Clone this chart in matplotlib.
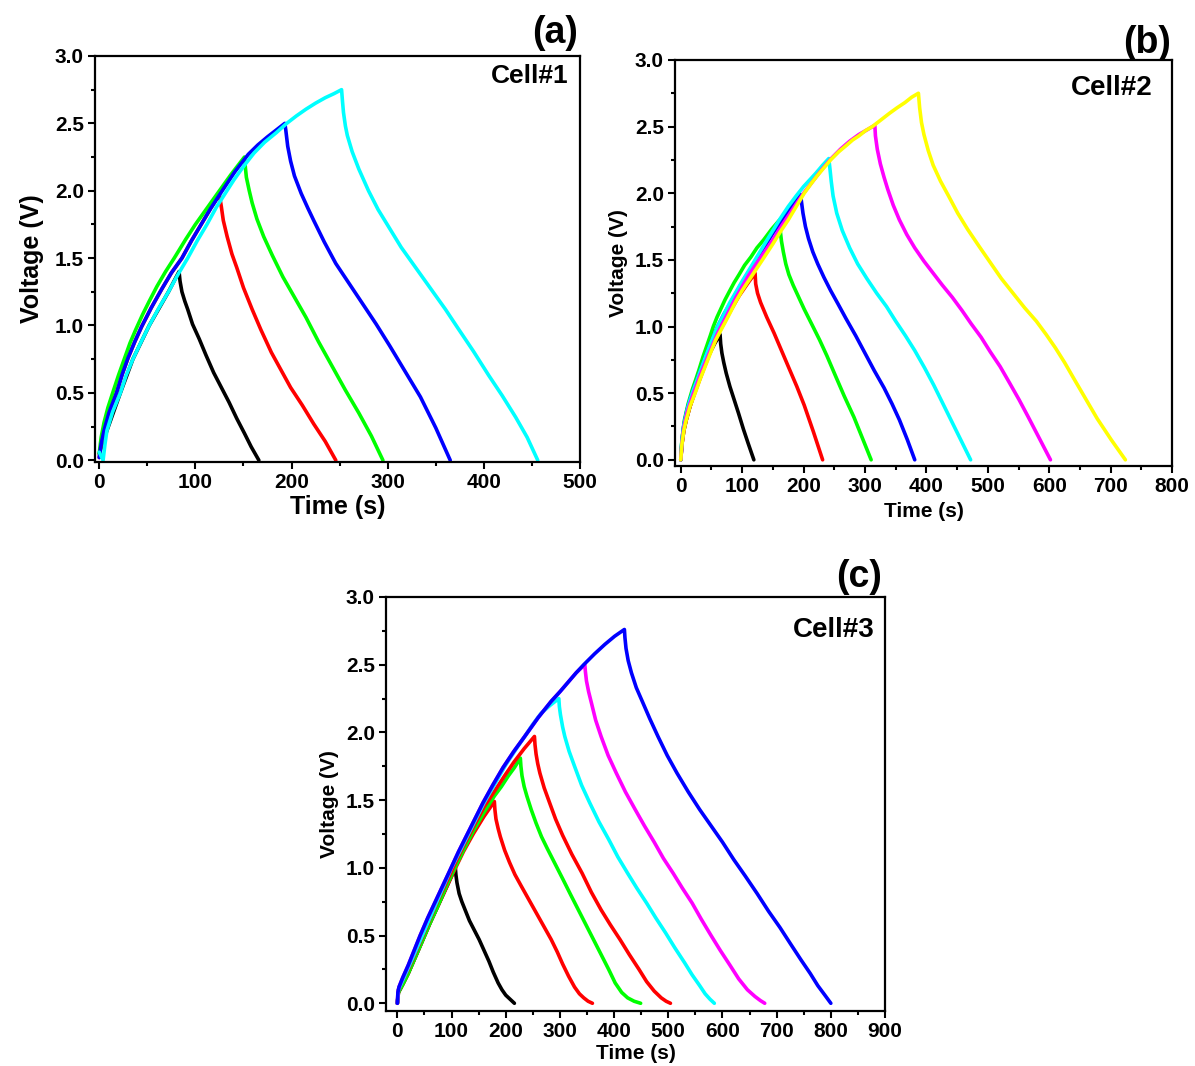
import numpy as np
import matplotlib
matplotlib.use("Agg")
import matplotlib.pyplot as plt
from matplotlib.ticker import MultipleLocator

plt.rcParams['font.family'] = ['Liberation Sans', 'DejaVu Sans']
plt.rcParams['font.weight'] = 'bold'

# =============================================================================
# Data: each curve = charge (up to the peak) then discharge
# =============================================================================
cell1_colors = ['#000000', '#FF0000', '#00FF00', '#0000FF', '#00FFFF']
cell1_time = [
    [0, 8, 22, 35, 52, 72, 83,
     84, 86, 89, 92, 97, 104, 111, 119, 127, 135, 143, 151, 158, 166],
    [0, 2, 5, 10, 18, 24, 30, 37, 44, 54, 65, 75, 86, 96, 106, 116, 125,
     127, 129, 133, 138, 143, 150, 159, 168, 179, 189, 199, 211, 223, 235, 246],
    [0, 2, 5, 9, 14, 20, 26, 32, 38, 45, 52, 60, 69, 78, 90, 100, 112, 123, 137, 151,
     152, 153, 156, 159, 164, 171, 180, 191, 203, 215, 228, 242, 256, 270, 283, 295],
    [0, 2, 5, 10, 18, 24, 30, 37, 44, 54, 65, 75, 86, 96, 106, 116, 127, 141, 155, 165, 175, 184, 193,
     194, 196, 199, 203, 210, 217, 223, 234, 246, 260, 274, 288, 302, 318, 334, 350, 365],
    [0, 2, 4, 6, 8, 14, 22, 28, 35, 43, 52, 62, 72, 82, 92, 102, 112, 122, 131, 140, 150, 161,
     172, 184, 195, 205, 215, 225, 235, 244, 252,
     253, 254, 256, 258, 263, 270, 280, 290, 302, 314, 330, 346, 360, 373, 389, 405, 419, 433, 445, 456],
]
cell1_volt = [
    [0.05, 0.22, 0.50, 0.75, 1.00, 1.25, 1.40,
     1.33, 1.25, 1.18, 1.12, 1.01, 0.90, 0.78, 0.65, 0.54, 0.43, 0.31, 0.20, 0.10, 0.0],
    [0.02, 0.12, 0.22, 0.35, 0.50, 0.64, 0.76, 0.88, 0.99, 1.13, 1.27, 1.39, 1.50, 1.63, 1.75, 1.87, 1.97,
     1.88, 1.78, 1.66, 1.53, 1.43, 1.28, 1.12, 0.97, 0.80, 0.67, 0.54, 0.41, 0.27, 0.14, 0.0],
    [0.05, 0.17, 0.28, 0.39, 0.50, 0.63, 0.75, 0.87, 0.97, 1.08, 1.18, 1.29, 1.40, 1.50, 1.64, 1.75, 1.87,
     1.98, 2.12, 2.25,
     2.17, 2.10, 2.00, 1.91, 1.79, 1.66, 1.52, 1.36, 1.21, 1.06, 0.88, 0.70, 0.52, 0.35, 0.18, 0.0],
    [0.02, 0.12, 0.22, 0.35, 0.50, 0.64, 0.76, 0.88, 0.99, 1.13, 1.27, 1.39, 1.50, 1.63, 1.75, 1.87, 1.99,
     2.14, 2.27, 2.34, 2.40, 2.45, 2.50,
     2.45, 2.33, 2.22, 2.11, 1.98, 1.87, 1.78, 1.62, 1.46, 1.31, 1.16, 1.01, 0.85, 0.66, 0.47, 0.24, 0.0],
    [0.06, 0.03, 0.0, 0.12, 0.22, 0.36, 0.50, 0.63, 0.75, 0.87, 1.00, 1.13, 1.25, 1.38, 1.50, 1.63, 1.75,
     1.88, 1.98, 2.08, 2.18, 2.28, 2.36, 2.43, 2.50, 2.555, 2.605, 2.65, 2.69, 2.72, 2.75,
     2.66, 2.58, 2.48, 2.41, 2.29, 2.16, 2.00, 1.86, 1.72, 1.58, 1.42, 1.26, 1.12, 0.98, 0.81, 0.63, 0.48,
     0.32, 0.17, 0.0],
]

cell2_colors = ['#000000', '#FF0000', '#00FF00', '#0000FF', '#00FFFF', '#FF00FF', '#FFFF00']
cell2_time = [
    [0, 2, 5, 9, 15, 22, 30, 38, 45, 55, 64,
     65, 67, 70, 74, 80, 87, 94, 102, 110, 119],
    [0, 2, 5, 9, 15, 25, 38, 50, 65, 80, 95, 110, 121,
     122, 125, 130, 140, 152, 164, 176, 189, 201, 216, 231],
    [0, 1, 2, 4, 6, 9, 12, 19, 25, 30, 36, 42, 48, 53, 59, 65, 72, 80, 87, 95, 104, 114, 124, 135, 148, 161,
     162, 164, 167, 171, 176, 183, 192, 201, 213, 226, 238, 251, 266, 282, 296, 310],
    [0, 2, 5, 10, 15, 20, 25, 32, 40, 50, 60, 70, 80, 90, 100, 112, 125, 138, 150, 162, 175, 185, 195,
     197, 199, 203, 208, 215, 223, 233, 244, 256, 269, 285, 300, 315, 331, 344, 356, 369, 381],
    [0, 2, 5, 10, 15, 20, 25, 32, 40, 50, 60, 70, 80, 90, 100, 112, 125, 138, 150, 162, 175, 188, 200,
     210, 220, 231, 241,
     243, 245, 248, 254, 263, 275, 288, 303, 319, 335, 350, 366, 381, 397, 412, 427, 442, 457, 472],
    [0, 2, 5, 10, 15, 20, 25, 32, 40, 50, 60, 70, 80, 90, 100, 110, 120, 135, 150, 162, 175, 188, 200,
     215, 230, 245, 260, 275, 290, 305, 316,
     317, 320, 325, 331, 337, 346, 356, 368, 381, 396, 411, 426, 442, 458, 473, 489, 504, 520, 535, 551,
     566, 584, 602],
    [0, 1, 2, 5, 9, 15, 20, 25, 31, 38, 44, 50, 57, 65, 72, 80, 90, 100, 110, 120, 133, 150, 162, 175,
     188, 201, 212, 222, 233, 244, 257, 270, 280, 290, 301, 312, 326, 340, 352, 365, 376, 387,
     389, 392, 396, 403, 411, 423, 436, 451, 467, 486, 504, 522, 541, 560, 579, 595, 610, 625, 640, 659,
     678, 701, 724],
]
cell2_volt = [
    [0.0, 0.12, 0.22, 0.30, 0.40, 0.50, 0.60, 0.70, 0.78, 0.87, 0.94,
     0.87, 0.80, 0.73, 0.65, 0.55, 0.45, 0.35, 0.23, 0.12, 0.0],
    [0.0, 0.12, 0.22, 0.30, 0.40, 0.53, 0.69, 0.83, 0.98, 1.11, 1.23, 1.33, 1.40,
     1.32, 1.25, 1.18, 1.07, 0.95, 0.82, 0.69, 0.55, 0.41, 0.21, 0.0],
    [0.0, 0.10, 0.15, 0.23, 0.30, 0.36, 0.42, 0.53, 0.61, 0.68, 0.77, 0.85, 0.93, 1.00, 1.07, 1.13, 1.20,
     1.27, 1.33, 1.39, 1.46, 1.52, 1.59, 1.65, 1.73, 1.80,
     1.72, 1.64, 1.56, 1.47, 1.39, 1.31, 1.22, 1.13, 1.02, 0.90, 0.78, 0.64, 0.48, 0.32, 0.16, 0.0],
    [0.0, 0.15, 0.26, 0.37, 0.45, 0.52, 0.58, 0.67, 0.77, 0.89, 1.00, 1.09, 1.17, 1.25, 1.33, 1.42, 1.52,
     1.61, 1.70, 1.78, 1.86, 1.93, 1.99,
     1.92, 1.85, 1.75, 1.66, 1.56, 1.47, 1.37, 1.27, 1.17, 1.06, 0.93, 0.80, 0.67, 0.54, 0.42, 0.30, 0.15, 0.0],
    [0.0, 0.15, 0.26, 0.37, 0.45, 0.52, 0.58, 0.67, 0.77, 0.89, 1.00, 1.09, 1.18, 1.26, 1.34, 1.43, 1.53,
     1.63, 1.72, 1.81, 1.90, 1.98, 2.05, 2.10, 2.15, 2.21, 2.26,
     2.18, 2.09, 1.98, 1.85, 1.72, 1.59, 1.47, 1.36, 1.25, 1.15, 1.04, 0.93, 0.82, 0.69, 0.56, 0.42, 0.28,
     0.14, 0.0],
    [0.0, 0.13, 0.24, 0.35, 0.42, 0.49, 0.55, 0.64, 0.73, 0.84, 0.95, 1.04, 1.13, 1.22, 1.30, 1.38, 1.45,
     1.55, 1.65, 1.74, 1.83, 1.92, 2.00, 2.09, 2.18, 2.26, 2.33, 2.39, 2.44, 2.48, 2.51,
     2.43, 2.33, 2.22, 2.12, 2.03, 1.91, 1.80, 1.69, 1.59, 1.49, 1.40, 1.31, 1.22, 1.12, 1.02, 0.92, 0.81,
     0.70, 0.58, 0.45, 0.32, 0.16, 0.0],
    [0.0, 0.07, 0.12, 0.22, 0.30, 0.40, 0.46, 0.52, 0.60, 0.68, 0.75, 0.82, 0.90, 0.97, 1.03, 1.10, 1.19,
     1.27, 1.34, 1.41, 1.50, 1.62, 1.71, 1.80, 1.90, 2.00, 2.07, 2.13, 2.19, 2.25, 2.31, 2.36, 2.40, 2.43,
     2.47, 2.50, 2.55, 2.60, 2.64, 2.68, 2.72, 2.75,
     2.64, 2.53, 2.44, 2.32, 2.21, 2.09, 1.98, 1.85, 1.73, 1.60, 1.48, 1.36, 1.25, 1.14, 1.04, 0.94, 0.84,
     0.73, 0.61, 0.46, 0.31, 0.15, 0.0],
]

cell3_colors = ['#000000', '#FF0000', '#00FF00', '#FF0000', '#00FFFF', '#FF00FF', '#0000FF']
cell3_time = [
    [0, 2, 10, 20, 32, 45, 60, 75, 91, 107,
     108, 110, 114, 119, 126, 133, 142, 151, 160, 169, 177, 186, 193, 200, 208, 216],
    [0, 2, 10, 20, 32, 45, 60, 75, 90, 105, 122, 140, 160, 179,
     180, 182, 186, 190, 198, 207, 217, 228, 242, 256, 270, 284, 295, 305, 316, 327, 336, 344, 352, 360],
    [0, 2, 10, 20, 32, 45, 60, 75, 90, 105, 122, 140, 160, 179, 192, 205, 216, 227,
     228, 230, 234, 239, 247, 256, 266, 277, 291, 305, 320, 334, 348, 362, 376, 390, 402, 414, 425, 437, 449],
    [0, 2, 10, 20, 32, 45, 60, 75, 90, 105, 122, 140, 160, 180, 198, 215, 234, 253,
     254, 256, 259, 263, 271, 281, 292, 305, 322, 341, 358, 376, 393, 411, 428, 446, 460, 474, 487, 496, 504],
    [0, 2, 10, 20, 32, 45, 60, 75, 88, 100, 115, 130, 145, 160, 180, 200, 218, 235, 250, 265, 282, 298,
     299, 301, 305, 309, 317, 327, 340, 355, 372, 390, 407, 425, 442, 460, 477, 495, 512, 530, 544, 558,
     568, 577, 585],
    [0, 1, 3, 10, 20, 31, 42, 56, 70, 84, 98, 113, 128, 143, 158, 176, 195, 215, 235, 260, 284, 300, 315,
     330, 346,
     347, 349, 353, 358, 366, 376, 389, 404, 421, 439, 456, 474, 491, 509, 526, 544, 561, 579, 596, 614,
     630, 646, 660, 670, 678],
    [0, 1, 3, 10, 20, 31, 42, 56, 70, 84, 98, 113, 128, 143, 158, 176, 195, 215, 235, 260, 284, 300, 315,
     330, 344, 364, 383, 401, 419,
     420, 422, 426, 432, 441, 453, 466, 481, 498, 516, 537, 558, 579, 600, 621, 642, 664, 685, 706, 727,
     745, 762, 776, 789, 800],
]
cell3_volt = [
    [0.0, 0.08, 0.14, 0.22, 0.33, 0.45, 0.59, 0.72, 0.86, 1.00,
     0.95, 0.89, 0.81, 0.75, 0.68, 0.61, 0.54, 0.47, 0.39, 0.31, 0.23, 0.15, 0.10, 0.06, 0.03, 0.0],
    [0.0, 0.08, 0.14, 0.22, 0.33, 0.45, 0.59, 0.72, 0.85, 0.98, 1.12, 1.25, 1.38, 1.49,
     1.43, 1.36, 1.29, 1.23, 1.13, 1.04, 0.95, 0.87, 0.77, 0.67, 0.57, 0.47, 0.38, 0.29, 0.20, 0.12, 0.07,
     0.04, 0.015, 0.0],
    [0.0, 0.08, 0.14, 0.22, 0.33, 0.45, 0.59, 0.72, 0.86, 0.99, 1.13, 1.27, 1.41, 1.53, 1.60, 1.68, 1.74, 1.81,
     1.75, 1.68, 1.60, 1.53, 1.43, 1.33, 1.23, 1.14, 1.03, 0.92, 0.80, 0.69, 0.58, 0.47, 0.36, 0.25, 0.15,
     0.08, 0.04, 0.015, 0.0],
    [0.0, 0.10, 0.17, 0.25, 0.36, 0.48, 0.62, 0.76, 0.89, 1.02, 1.16, 1.30, 1.45, 1.57, 1.68, 1.78, 1.88, 1.97,
     1.91, 1.84, 1.77, 1.70, 1.59, 1.48, 1.36, 1.24, 1.10, 0.96, 0.82, 0.69, 0.58, 0.47, 0.36, 0.25, 0.16,
     0.09, 0.04, 0.015, 0.0],
    [0.0, 0.10, 0.17, 0.26, 0.37, 0.49, 0.63, 0.77, 0.89, 1.00, 1.12, 1.24, 1.36, 1.48, 1.62, 1.76, 1.87,
     1.97, 2.06, 2.14, 2.20, 2.25,
     2.19, 2.13, 2.04, 1.97, 1.86, 1.75, 1.61, 1.48, 1.34, 1.21, 1.08, 0.96, 0.85, 0.74, 0.63, 0.52, 0.41,
     0.30, 0.21, 0.13, 0.07, 0.03, 0.0],
    [0.0, 0.08, 0.12, 0.19, 0.28, 0.39, 0.50, 0.63, 0.75, 0.87, 0.99, 1.12, 1.24, 1.36, 1.48, 1.61, 1.74,
     1.86, 1.97, 2.11, 2.23, 2.30, 2.37, 2.44, 2.50,
     2.45, 2.38, 2.30, 2.22, 2.09, 1.97, 1.83, 1.70, 1.56, 1.43, 1.31, 1.19, 1.07, 0.96, 0.85, 0.74, 0.62,
     0.50, 0.39, 0.28, 0.18, 0.10, 0.05, 0.02, 0.0],
    [0.0, 0.08, 0.12, 0.19, 0.28, 0.39, 0.50, 0.63, 0.75, 0.87, 0.99, 1.12, 1.24, 1.36, 1.48, 1.61, 1.74,
     1.86, 1.97, 2.11, 2.23, 2.30, 2.37, 2.44, 2.50, 2.58, 2.65, 2.71, 2.76,
     2.70, 2.62, 2.53, 2.44, 2.33, 2.22, 2.10, 1.97, 1.83, 1.70, 1.56, 1.43, 1.31, 1.19, 1.06, 0.94, 0.81,
     0.68, 0.56, 0.43, 0.32, 0.22, 0.13, 0.06, 0.0],
]

# =============================================================================
# Plotting
# =============================================================================
def style_axes(ax, xmin, xmax, ymin, label_size, xlabelpad, ylabelpad):
    ax.set_xlim(xmin, xmax)
    ax.set_ylim(ymin, 3.0)
    ax.xaxis.set_major_locator(MultipleLocator(100))
    ax.xaxis.set_minor_locator(MultipleLocator(50))
    ax.yaxis.set_major_locator(MultipleLocator(0.5))
    ax.yaxis.set_minor_locator(MultipleLocator(0.25))
    ax.yaxis.set_major_formatter(lambda v, pos: f"{v:.1f}")
    for sp in ax.spines.values():
        sp.set_linewidth(1.6)
    ax.tick_params(which='major', direction='out', length=5, width=1.5,
                   labelsize=15, pad=3)
    ax.tick_params(which='minor', direction='out', length=3, width=1.5)
    ax.set_xlabel('Time (s)', fontsize=label_size, fontweight='bold', labelpad=xlabelpad)
    ax.set_ylabel('Voltage (V)', fontsize=label_size, fontweight='bold', labelpad=ylabelpad)


def plot_cell(ax, times, volts, colors):
    for t, v, c in zip(times, volts, colors):
        ax.plot(t, v, color=c, lw=2.6, solid_joinstyle='round', solid_capstyle='round')


fig = plt.figure(figsize=(11.95, 10.66), dpi=100)
ax_a = fig.add_axes([0.0795, 0.5666, 0.4059, 0.3809])
ax_b = fig.add_axes([0.5649, 0.5629, 0.4159, 0.3809])
ax_c = fig.add_axes([0.3230, 0.0516, 0.4176, 0.3884])

plot_cell(ax_a, cell1_time, cell1_volt, cell1_colors)
plot_cell(ax_b, cell2_time, cell2_volt, cell2_colors)
plot_cell(ax_c, cell3_time, cell3_volt, cell3_colors)

style_axes(ax_a, -4.4, 500, -0.013, 18, 2, 8)
style_axes(ax_b, -9.3, 800, -0.046, 15, 4, 5)
style_axes(ax_c, -21, 900, -0.057, 15, 2, 5)

# Cell names inside the boxes
ax_a.text(0.976, 0.95, 'Cell#1', transform=ax_a.transAxes, ha='right', va='center',
          fontsize=19, fontweight='bold')
ax_b.text(0.96, 0.93, 'Cell#2', transform=ax_b.transAxes, ha='right', va='center',
          fontsize=20, fontweight='bold')
ax_c.text(0.98, 0.92, 'Cell#3', transform=ax_c.transAxes, ha='right', va='center',
          fontsize=20, fontweight='bold')

# Panel letters
fig.text(555 / 1195, 1 - 33 / 1066, '(a)', ha='center', va='center', fontsize=27, fontweight='bold')
fig.text(1147 / 1195, 1 - 43 / 1066, '(b)', ha='center', va='center', fontsize=27, fontweight='bold')
fig.text(859 / 1195, 1 - 577 / 1066, '(c)', ha='center', va='center', fontsize=27, fontweight='bold')

plt.savefig('out.png', dpi=100)
